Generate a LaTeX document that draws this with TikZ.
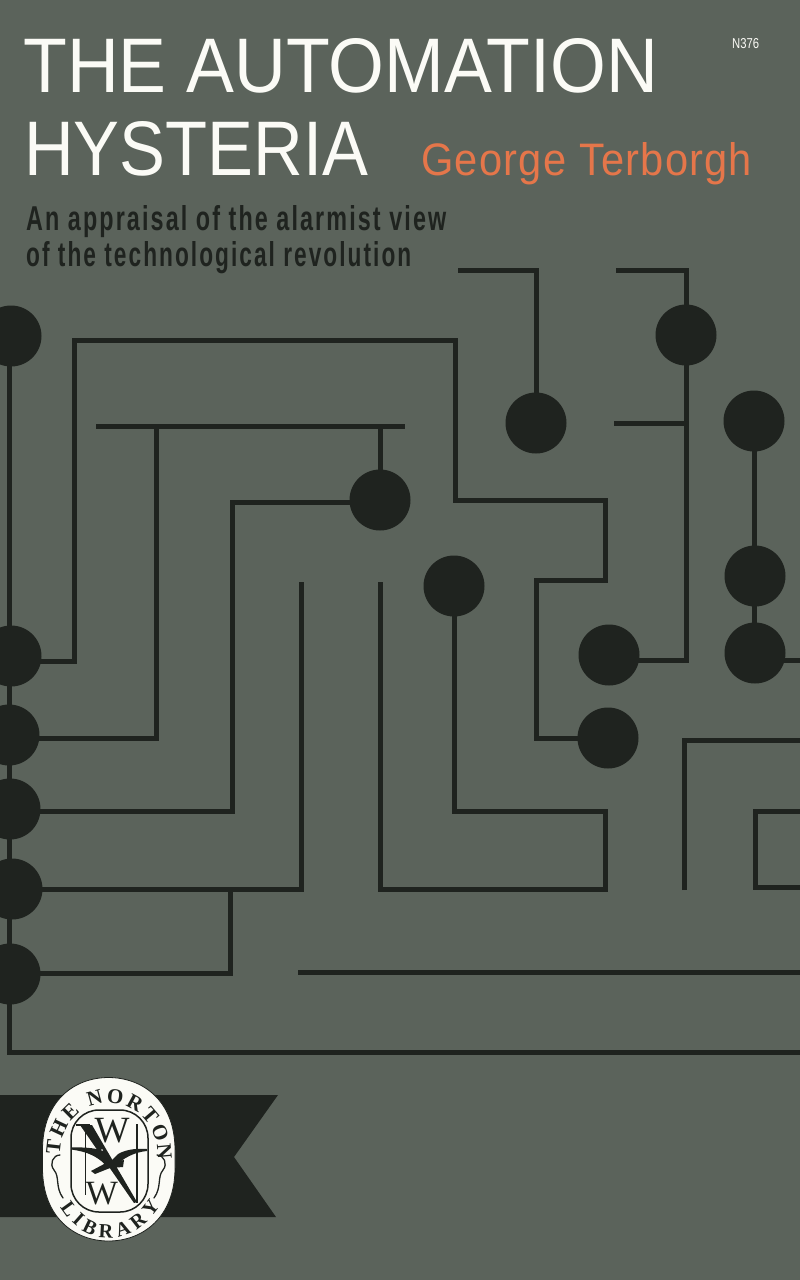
\documentclass[tikz,border=0pt]{standalone}
\usepackage{fontspec}
\usetikzlibrary{decorations.text}
\setmainfont{Liberation Sans}
\newfontfamily\serifem{Liberation Serif}
\definecolor{bgc}{HTML}{5B635B}
\definecolor{ink}{HTML}{1F231F}
\definecolor{orng}{HTML}{E5764A}
\definecolor{wht}{HTML}{FBFBF6}
\tikzset{
 x=1pt,y=-1pt,
 dot/.style={circle,fill=ink,draw=none,minimum size=61pt,inner sep=0pt},
 wire/.style={draw=ink,line width=5pt,line join=miter,line cap=butt},
 titletxt/.style={anchor=base west,inner sep=0pt,text=wht},
 emb/.style={text=ink,inner sep=0pt},
}
\newcommand{\fit}[3]{\resizebox{#1pt}{#2pt}{#3}}
\begin{document}
\begin{tikzpicture}
\useasboundingbox (0,0) rectangle (800,1280);
\fill[bgc] (0,0) rectangle (800,1280);
\clip (0,0) rectangle (800,1280);
% texts
\node[titletxt] (t1) at (23,92) {\fit{635}{54}{THE AUTOMATION}};
\node[titletxt] (t2) at (24,175) {\fit{344}{54}{HYSTERIA}};
\node[anchor=base west,inner sep=0pt,text=orng] (t3) at (421,175) {\resizebox{331pt}{33pt}{\addfontfeature{LetterSpace=3}George Terborgh}};
\node[anchor=base west,inner sep=0pt,text=ink] (t4) at (26,230) {\resizebox{420pt}{25pt}{\addfontfeature{LetterSpace=9}\bfseries An appraisal of the alarmist view}};
\node[anchor=base west,inner sep=0pt,text=ink] (t5) at (26,266) {\resizebox{385pt}{25pt}{\addfontfeature{LetterSpace=9}\bfseries of the technological revolution}};
\node[anchor=base west,inner sep=0pt,text=wht] (t6) at (732,48) {\resizebox{27pt}{10pt}{N376}};
% dots
\foreach \n/\p in {a/{11,336},b/{686,335},c/{536,423},d/{754,421},e/{380,500},f/{454,586},g/{755,576},h/{755,653},i/{609,655},j/{608,738},k/{11,656},l/{9,735},m/{10,809},n/{12,889},o/{10,974}}
  \node[dot] (\n) at (\p) {};
% free ends and bends
\foreach \n/\p in {p1/{74,661},p2/{74,340},p3/{455,340},p4/{455,500},p5/{605,500},p6/{605,580},p7/{536,580},p8/{536,738},
 q1/{96,426},q2/{405,426},q3/{156,426},q4/{156,738},q5/{380,426},
 r1/{232,502},r2/{232,811},
 s1/{301,582},s2/{301,889},s3/{230,889},s4/{230,973},
 u1/{380,582},u2/{380,889},u3/{605,889},u4/{605,811},u5/{454,811},
 v1/{458,270},v2/{536,270},
 w1/{616,270},w2/{686,270},w3/{686,660},w4/{614,423},w5/{686,423},
 x1/{755,660},x2/{800,660},
 y1/{684,890},y2/{684,740},y3/{800,740},
 z1/{800,811},z2/{755,811},z3/{755,887},z4/{800,887},
 z5/{298,972},z6/{800,972},
 z7/{9.5,1052.5},z8/{800,1052.5},z9/{9.5,336}}
  \coordinate (\n) at (\p);
% wires
\path[wire] (k |- p1) -- (p1) -- (p2) -- (p3) -- (p4) -- (p5) -- (p6) -- (p7) -- (p8) -- (j.center);
\path[wire] (q1) -- (q2);
\path[wire] (q3) -- (q4) -- (l |- q4);
\path[wire] (q5) -- (e.center);
\path[wire] (e |- r1) -- (r1) -- (r2) -- (m |- r2);
\path[wire] (s1) -- (s2) -- (n |- s2);
\path[wire] (s3) -- (s4) -- (o |- s4);
\path[wire] (u1) -- (u2) -- (u3) -- (u4) -- (u5) -- (f.center);
\path[wire] (v1) -- (v2) -- (c.center);
\path[wire] (w1) -- (w2) -- (w3) -- (i |- w3);
\path[wire] (w4) -- (w5);
\path[wire] (d.center) -- (d |- h);
\path[wire] (x1) -- (x2);
\path[wire] (y1) -- (y2) -- (y3);
\path[wire] (z1) -- (z2) -- (z3) -- (z4);
\path[wire] (z5) -- (z6);
\path[wire] (z9) -- (z7) -- (z8);
% banner
\fill[ink] (0,1095) -- (278,1095) -- (234,1157) -- (276,1217) -- (0,1217) -- cycle;
% emblem
\fill[wht,draw=ink,line width=0.8pt] (42.5,1150) .. controls (42.5,1100) and (75,1077.5) .. (108.5,1077.5) .. controls (142,1077.5) and (175,1100) .. (175,1150) -- (175,1168) .. controls (175,1218) and (142,1241) .. (108.5,1241) .. controls (75,1241) and (42.5,1218) .. (42.5,1168) -- cycle;
\draw[ink,line width=1.5pt,rounded corners=28pt] (71,1110) rectangle (148,1212);
% ring text
\path[decorate,decoration={text along path,text align={fit to path},text={|\serifem\bfseries\fontsize{21pt}{21pt}\selectfont\color{ink}|THE NORTON}}] (60,1155) .. controls (60,1122) and (85,1103) .. (108,1103) .. controls (134,1103) and (158,1122) .. (158,1160);
\path[decorate,decoration={text along path,text align={fit to path},text={|\serifem\bfseries\fontsize{20pt}{20pt}\selectfont\color{ink}|LIBRARY}}] (60,1207) .. controls (72,1227) and (90,1238) .. (108,1238) .. controls (128,1238) and (146,1227) .. (160,1206);
% monogram
\node[emb,font=\serifem\fontsize{37pt}{37pt}\selectfont] (w) at (112,1131) {W};
\node[emb,font=\serifem\fontsize{34pt}{34pt}\selectfont] (w') at (102,1194) {W};
\draw[ink,line width=0.9pt] (85,1125) -- (85,1195);
\draw[ink,line width=1.4pt] (137,1124) -- (137,1203);
\draw[ink,line width=1.4pt] (76,1125) -- (90,1125);
\fill[ink] (80,1125) -- (92,1125) -- (137,1202) -- (134,1203) -- cycle;
\fill[wht] (102,1150) circle (1pt);
\fill[ink] (71,1147.5) .. controls (85,1147) and (100,1148) .. (106,1153) -- (117,1168) -- (108,1168) .. controls (100,1158) and (90,1152) .. (71,1149.5) -- cycle;
\fill[ink] (147,1149) .. controls (135,1148) and (125,1150) .. (118,1154) -- (108,1164) -- (114,1168) .. controls (122,1158) and (135,1152) .. (147,1151) -- cycle;
\fill[ink] (91,1171) -- (106,1163) -- (124,1160) -- (123,1167) -- (110,1168) -- (95,1174) -- cycle;
\draw[ink,line width=1.3pt,line cap=round] (60,1155) .. controls (53,1155) and (49,1164) .. (54,1170) .. controls (60,1177) and (55,1187) .. (63,1198);
\draw[ink,line width=1.3pt,line cap=round] (157,1155) .. controls (164,1155) and (168,1164) .. (163,1170) .. controls (157,1177) and (162,1187) .. (154,1198);
\end{tikzpicture}
\end{document}
